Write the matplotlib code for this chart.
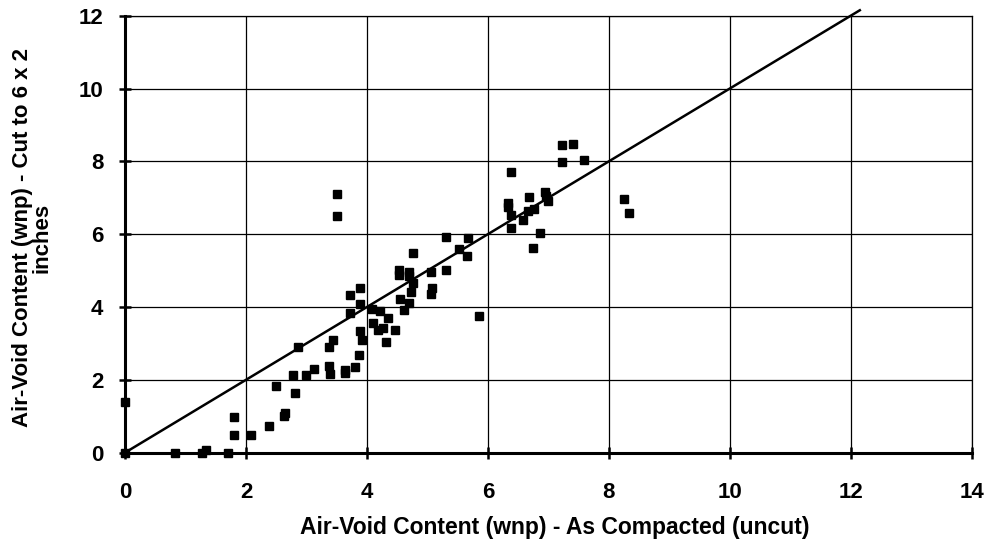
import matplotlib
matplotlib.use("Agg")
import matplotlib.pyplot as plt

# Air-void content as compacted (x) vs cut to 6 x 2 inches (y)
as_compacted = [0, 0, 0.83, 1.27, 1.34, 1.71, 1.80, 1.80, 2.09, 2.38,
                2.63, 2.65, 2.50, 2.81, 2.78, 2.86, 3.00, 3.12, 3.37, 3.39,
                3.37, 3.44, 3.64, 3.64, 3.81, 3.72, 3.72, 3.89, 3.89, 3.89,
                3.92, 3.87, 4.09, 4.22, 4.35, 4.10, 4.26, 4.18, 4.46, 4.32,
                4.53, 4.53, 4.70, 4.70, 4.76, 4.76, 4.73, 4.55, 4.69, 4.62,
                5.06, 5.07, 5.06, 5.31, 5.31, 5.67, 5.52, 5.65, 5.86, 3.51,
                3.51, 6.38, 6.34, 6.34, 6.39, 6.38, 6.58, 6.67, 6.68, 6.77,
                6.86, 6.74, 6.95, 6.96, 6.99, 7.22, 7.40, 7.22, 7.59, 8.25,
                8.34]
cut_6x2 = [1.40, 0, 0, 0, 0.07, 0, 0.99, 0.49, 0.49, 0.74,
           1.02, 1.10, 1.82, 1.63, 2.14, 2.89, 2.14, 2.30, 2.39, 2.16,
           2.89, 3.10, 2.28, 2.19, 2.34, 4.34, 3.84, 4.51, 4.07, 3.33,
           3.10, 2.67, 3.95, 3.90, 3.69, 3.55, 3.43, 3.36, 3.38, 3.04,
           5.01, 4.87, 4.96, 4.85, 5.49, 4.67, 4.42, 4.23, 4.12, 3.91,
           4.97, 4.53, 4.36, 5.03, 5.93, 5.89, 5.58, 5.40, 3.75, 7.10,
           6.49, 7.72, 6.85, 6.74, 6.52, 6.18, 6.39, 6.64, 7.02, 6.70,
           6.02, 5.63, 7.17, 7.05, 6.90, 8.45, 8.48, 7.97, 8.04, 6.96,
           6.57]

# line of equality
eq_line = [0, 12.15]

x_ticks = [0, 2, 4, 6, 8, 10, 12, 14]
y_ticks = [0, 2, 4, 6, 8, 10, 12]

plt.rcParams['font.family'] = ['Liberation Sans', 'DejaVu Sans']
plt.rcParams['font.weight'] = 'bold'

fig = plt.figure(figsize=(9.88, 5.42), dpi=100)
ax = fig.add_axes([0.1265, 0.1648, 0.857, 0.8062])

ax.set_xlim(0, 14)
ax.set_ylim(0, 12)
ax.set_xticks(x_ticks)
ax.set_yticks(y_ticks)
ax.grid(True, color='black', linewidth=0.9)
ax.set_axisbelow(True)

ax.plot(eq_line, eq_line, color='black', linewidth=1.8, clip_on=False, zorder=3)
ax.plot(as_compacted, cut_6x2, linestyle='none', marker='s', markersize=6,
        color='black', clip_on=False, zorder=4)

for side in ['top', 'right']:
    ax.spines[side].set_linewidth(0.9)
for side in ['left', 'bottom']:
    ax.spines[side].set_linewidth(2.2)

ax.tick_params(axis='x', direction='inout', length=9, width=1.8, pad=16.5,
               labelsize=16)
ax.tick_params(axis='y', direction='inout', length=9, width=1.8, pad=11,
               labelsize=16)
for lbl in ax.get_xticklabels() + ax.get_yticklabels():
    lbl.set_fontweight('bold')

ax.set_xlabel("Air-Void Content (wnp) - As Compacted (uncut)",
              fontsize=16.5, fontweight='bold')
ax.set_ylabel("Air-Void Content (wnp) - Cut to 6 x 2\ninches",
              fontsize=16, fontweight='bold', linespacing=0.9)
ax.xaxis.set_label_coords(0.508, -0.145)
ax.yaxis.set_label_coords(-0.086, 0.492)

plt.savefig("out.png", dpi=100)
